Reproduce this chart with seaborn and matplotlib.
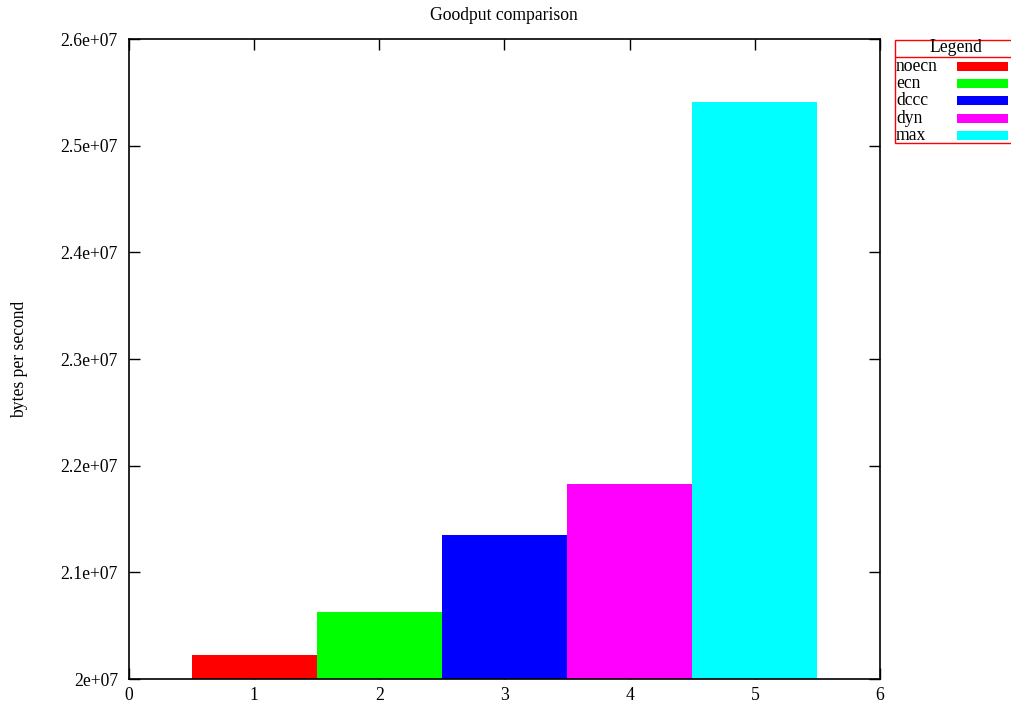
import matplotlib
matplotlib.use("Agg")
import matplotlib.pyplot as plt
import seaborn as sns
import pandas as pd
from matplotlib.patches import Rectangle
from matplotlib.ticker import FuncFormatter, MultipleLocator

# Goodput per scheme (bytes per second)
schemes = ["noecn", "ecn", "dccc", "dyn", "max"]
positions = [1, 2, 3, 4, 5]
goodput = [2.0225e7, 2.0628e7, 2.1350e7, 2.1828e7, 2.5410e7]
colors = ["#ff0000", "#00ff00", "#0000ff", "#ff00ff", "#00ffff"]
y_ticks = [2.0e7, 2.1e7, 2.2e7, 2.3e7, 2.4e7, 2.5e7, 2.6e7]

FS = 12.7

sns.set_theme(style="white")
plt.rcParams["font.family"] = ["Liberation Serif", "DejaVu Serif"]
plt.rcParams["font.size"] = FS

W, H = 1011, 707
fig = plt.figure(figsize=(W / 100, H / 100), dpi=100)
ax = fig.add_axes([129 / W, (H - 679) / H, (880 - 129) / W, (679 - 39) / H])

df = pd.DataFrame({"pos": positions, "goodput": goodput, "scheme": schemes})
sns.barplot(data=df, x="pos", y="goodput", hue="scheme", hue_order=schemes,
            palette=colors, native_scale=True, width=1.0, dodge=False,
            saturation=1, linewidth=0, legend=False, ax=ax)

ax.set_xlim(0, 6)
ax.set_ylim(2.0e7, 2.6e7)
ax.xaxis.set_major_locator(MultipleLocator(1))
ax.set_yticks(y_ticks)
ax.yaxis.set_major_formatter(FuncFormatter(lambda v, _: "%g" % v))
ax.xaxis.set_major_formatter(FuncFormatter(lambda v, _: "%d" % v))
ax.tick_params(direction="in", length=8, width=1, color="black",
               top=True, right=True, bottom=True, left=True,
               labelsize=FS, labelcolor="black")
ax.tick_params(axis="y", pad=8)
ax.tick_params(axis="x", pad=6)
for sp in ax.spines.values():
    sp.set_color("black")
    sp.set_linewidth(1.2)
ax.set_xlabel("")
ax.set_ylabel("bytes per second", fontsize=FS, color="black")
ax.yaxis.set_label_coords(-(129 - 28) / (880 - 129), 0.5)

fig.text(504 / W, 1 - 15 / H, "Goodput comparison", ha="center", va="center",
         fontsize=FS, color="black")

# Legend box drawn in figure pixel coordinates
lax = fig.add_axes([0, 0, 1, 1], facecolor="none")
lax.set_xlim(0, W)
lax.set_ylim(H, 0)
lax.axis("off")
bx0, by0, bx1, by1 = 895, 40, 1030, 143
lax.add_patch(Rectangle((bx0, by0), bx1 - bx0, by1 - by0, fill=False,
                        edgecolor="#ff0000", linewidth=1))
lax.plot([bx0, bx1], [57, 57], color="#ff0000", linewidth=1)
lax.text(956, 48, "Legend", ha="center", va="center", fontsize=FS, color="black")
for i, (name, c) in enumerate(zip(schemes, colors)):
    yc = 66.5 + i * 17.2
    lax.text(896, yc, name, ha="left", va="center", fontsize=FS, color="black")
    lax.add_patch(Rectangle((957, yc - 4.5), 51, 9, facecolor=c, edgecolor="none"))

fig.savefig("out.png", dpi=100, facecolor="white")
